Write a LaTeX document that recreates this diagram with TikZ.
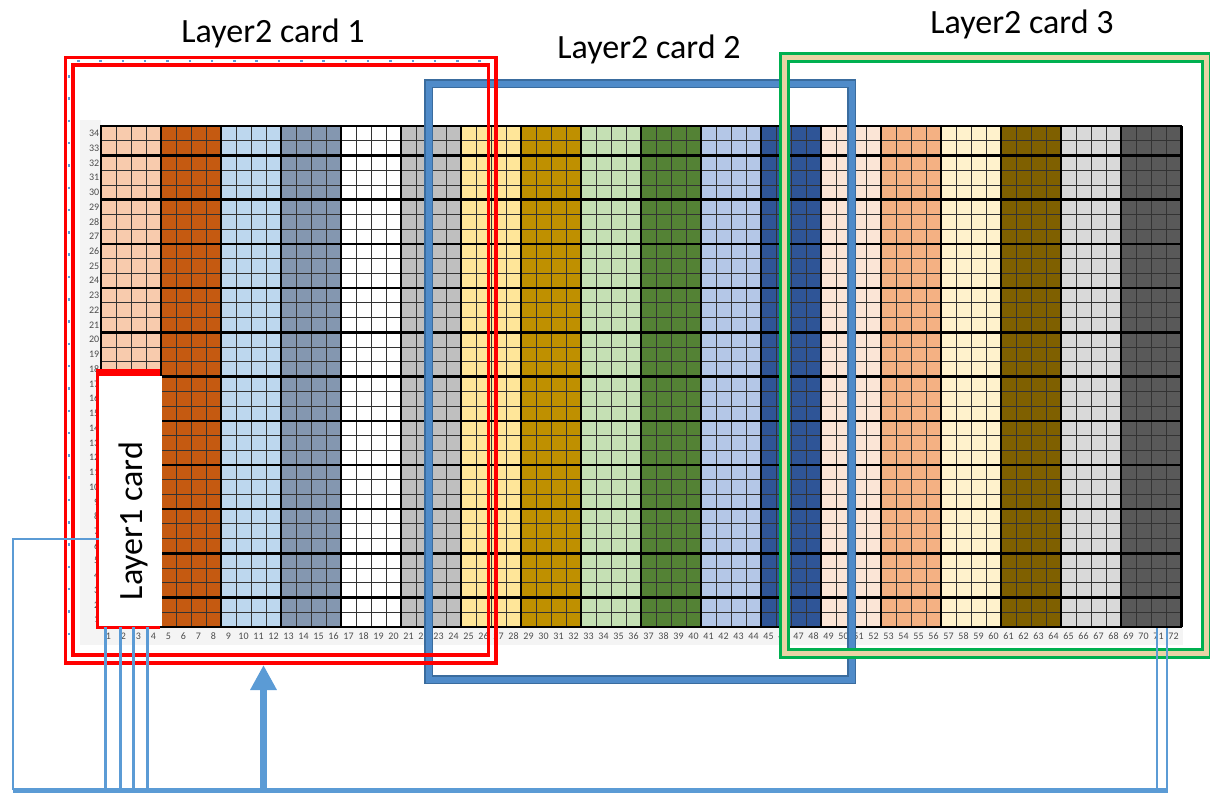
\documentclass[tikz,border=0pt]{standalone}
\usepackage{fontspec}
\setmainfont{Carlito}
\usetikzlibrary{arrows.meta}
\definecolor{cA}{HTML}{F8CBAD}
\definecolor{cB}{HTML}{C55A11}
\definecolor{cC}{HTML}{BDD7EE}
\definecolor{cD}{HTML}{8497B0}
\definecolor{cE}{HTML}{FFFFFF}
\definecolor{cF}{HTML}{BFBFBF}
\definecolor{cG}{HTML}{FFE699}
\definecolor{cH}{HTML}{BF9000}
\definecolor{cI}{HTML}{C5E0B4}
\definecolor{cJ}{HTML}{548235}
\definecolor{cK}{HTML}{B4C7E7}
\definecolor{cL}{HTML}{2F5597}
\definecolor{cM}{HTML}{FBE5D6}
\definecolor{cN}{HTML}{F4B183}
\definecolor{cO}{HTML}{FFF2CC}
\definecolor{cP}{HTML}{7F6000}
\definecolor{cQ}{HTML}{D9D9D9}
\definecolor{cR}{HTML}{595959}
\definecolor{wireblue}{HTML}{5B9BD5}
\definecolor{frameblue}{HTML}{4F8BC9}
\definecolor{frameblueedge}{HTML}{3A6C9E}
\definecolor{framegreen}{HTML}{00B050}
\definecolor{tan}{HTML}{E9D3A5}
\definecolor{labelbg}{HTML}{F4F4F4}
\begin{document}
\begin{tikzpicture}[x=1pt,y=-1pt,
  thinline/.style={draw=black!80, line width=0.8pt},
  thickline/.style={draw=black, line width=2.4pt},
  rowlab/.style={anchor=east, font=\fontsize{10}{11}\selectfont, text=black!70, inner sep=0pt},
  collab/.style={anchor=center, font=\fontsize{10}{11}\selectfont, text=black!70, inner sep=0pt},
  title/.style={anchor=base, font=\fontsize{34}{40}\selectfont, inner sep=0pt},
  redframe/.style={draw=red, line width=3.2pt},
  greenline/.style={draw=framegreen, line width=3pt},
  wire/.style={draw=wireblue, line width=3pt},
  thinwire/.style={draw=wireblue, line width=1.3pt},
  bus/.style={draw=wireblue, line width=5pt},
  dotblue/.style={draw=wireblue, line width=1.8pt, dash pattern=on 2.5pt off 19.8pt}
]
\useasboundingbox (0,0) rectangle (1210,801);
% label background strips
\fill[labelbg] (80,120) rectangle (101,645);
\fill[labelbg] (101,627) rectangle (1183,645);
% column groups
\foreach \col [count=\i from 0] in {cA,cB,cC,cD,cE,cF,cG,cH,cI,cJ,cK,cL,cM,cN,cO,cP,cQ,cR}
  \fill[\col] (101+60*\i,126) rectangle ++(60,501);
% thin grid lines
\foreach \c in {1,...,71}
  \draw[thinline] (101+15*\c,126) -- (101+15*\c,627);
\foreach \r in {1,...,33}
  \draw[thinline] (101,627-14.735*\r) -- (1181,627-14.735*\r);
% thick grid lines
\foreach \g in {0,...,18}
  \draw[thickline] (101+60*\g,126) -- (101+60*\g,627);
\draw[draw=black, line width=3pt] (1181,126) -- (1181,627);
\foreach \r in {0,2,5,8,11,14,17,20,23,26,29,32,34}
  \draw[thickline] (100,627-14.735*\r) -- (1182,627-14.735*\r);
% labels
\foreach \r in {1,...,34}
  \node[rowlab] (row\r) at (99.5,627-14.735*\r+7.37) {\r};
\foreach \c in {1,...,72}
  \node[collab] (col\c) at (101+15*\c-7.5,636) {\c};
% blue frame (Layer2 card 2)
\draw[draw=frameblueedge, line width=9pt] (428.5,83.5) rectangle (851.5,679.5);
\draw[draw=frameblue, line width=6pt] (428.5,83.5) rectangle (851.5,679.5);
% green frame (Layer2 card 3)
\draw[draw=tan, line width=8pt] (784,57) rectangle (1206,653);
\draw[greenline] (780,53) rectangle (1210,657);
\draw[greenline] (788,61) rectangle (1202,649);
% red frame (Layer2 card 1)
\draw[dotblue] (77,61) -- (482,61);
\draw[dotblue] (69,75) -- (69,650);
\draw[redframe] (65.5,57.5) rectangle (496,663);
\draw[redframe] (73,65) rectangle (488.5,655);
% titles
\node[title] (t1) at (273,42) {Layer2 card 1};
\node[title] (t2) at (649,58) {Layer2 card 2};
\node[title] (t3) at (1022,33) {Layer2 card 3};
% Layer1 card
\fill[red] (96,369) rectangle (160,629);
\node[fill=white, minimum width=63pt, minimum height=250pt, inner sep=0pt, anchor=north west] (card) at (98.5,376) {};
\node[rotate=90, font=\fontsize{34}{40}\selectfont, inner sep=0pt] (cardtext) at (133.5,521) {Layer1 card};
% connectors
\coordinate (busL) at (13,790);
\coordinate (busR) at (1168,790);
\coordinate (cardIn) at (98.5,539);
\draw[bus] (busL) -- (busR);
\draw[thinwire] (busL) |- (cardIn);
\foreach \x [count=\i] in {105,120,133,147} {
  \coordinate (t\i) at (\x,627);
  \coordinate (b\i) at (\x,790);
  \draw[wire] (b\i) -- (t\i);
}
\coordinate (arrB) at (263.5,790);
\coordinate (arrT) at (263.5,665);
\draw[draw=wireblue, line width=7pt, -{Triangle[length=25pt,width=25pt]}] (arrB) -- (arrT);
\coordinate (r1t) at (1157,628);
\coordinate (r1b) at (1157,790);
\coordinate (r2t) at (1167,628);
\coordinate (r2b) at (1167,790);
\draw[thinwire] (r1b) -- (r1t);
\draw[draw=wireblue, line width=2pt] (r2b) -- (r2t);
\end{tikzpicture}
\end{document}
